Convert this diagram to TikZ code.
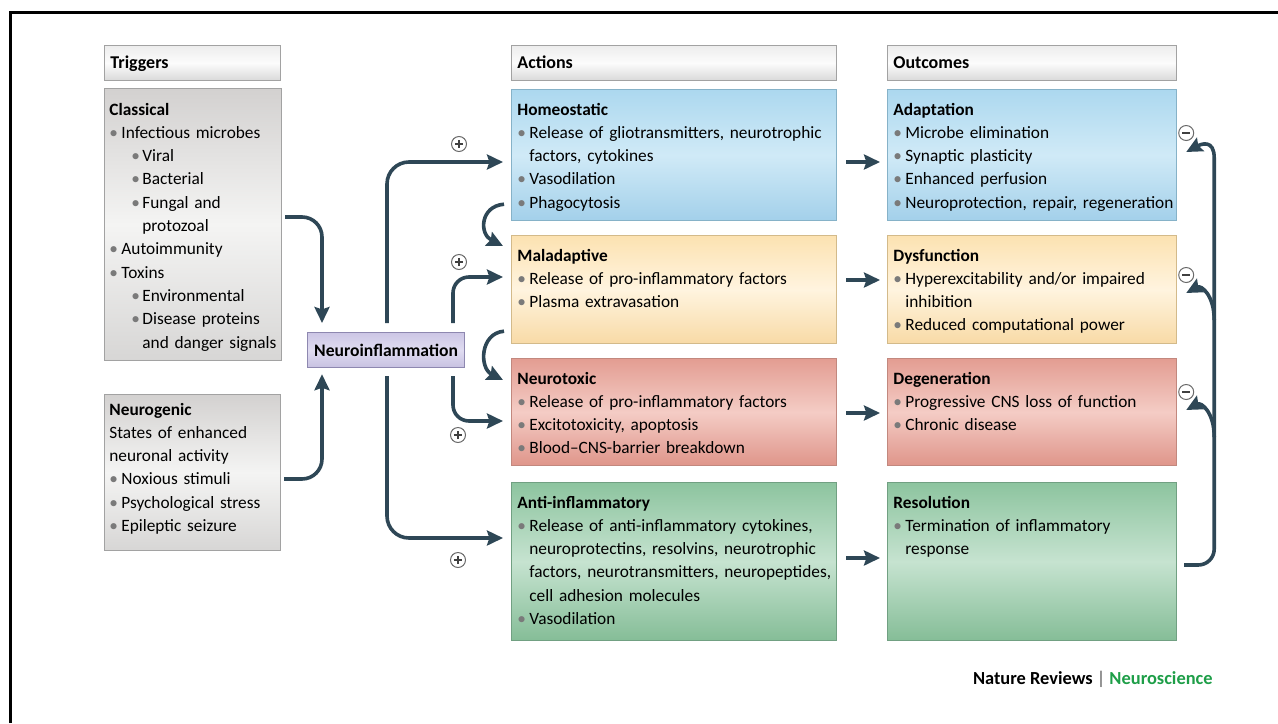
\documentclass[tikz,border=0pt]{standalone}
\usepackage{fontspec}
\setmainfont{Carlito}
\usetikzlibrary{arrows.meta,calc}

\definecolor{linec}{HTML}{2E4756}
\definecolor{signc}{HTML}{6A6A6A}
\definecolor{bulc}{HTML}{7A7A7A}
\definecolor{greyedge}{HTML}{A2A2A2}
\definecolor{greytop}{HTML}{D3D1D0}
\definecolor{greymid}{HTML}{F4F4F3}
\definecolor{greybot}{HTML}{D7D6D5}
\definecolor{hdrtop}{HTML}{EDEDED}
\definecolor{hdrmid}{HTML}{FCFCFC}
\definecolor{hdrbot}{HTML}{D9D9D9}
\definecolor{lavtop}{HTML}{CCC6E5}
\definecolor{lavmid}{HTML}{E0DCF1}
\definecolor{lavbot}{HTML}{C7C1E1}
\definecolor{lavedge}{HTML}{8E88B0}
\definecolor{bluetop}{HTML}{ACD8EF}
\definecolor{bluemid}{HTML}{D0EAF7}
\definecolor{bluebot}{HTML}{A3D0EA}
\definecolor{blueedge}{HTML}{86B2C8}
\definecolor{yeltop}{HTML}{FCE2B1}
\definecolor{yelmid}{HTML}{FFF4DF}
\definecolor{yelbot}{HTML}{F8DAA6}
\definecolor{yeledge}{HTML}{D3BA8A}
\definecolor{redtop}{HTML}{E39D92}
\definecolor{redmid}{HTML}{F4CCC5}
\definecolor{redbot}{HTML}{DF958A}
\definecolor{rededge}{HTML}{C2887E}
\definecolor{grntop}{HTML}{8DC49F}
\definecolor{grnmid}{HTML}{C6E3D0}
\definecolor{grnbot}{HTML}{85BD97}
\definecolor{grnedge}{HTML}{71A082}
\definecolor{natgreen}{HTML}{1E9E48}
\definecolor{credgrey}{HTML}{555555}

% list items with hanging indent: main level and sub level
\newcommand\itm{\par\hangindent=6pt\hangafter=1\noindent\makebox[6pt][l]{\textcolor{bulc}{\textbullet}}}
\newcommand\sitm{\par\hangindent=16.5pt\hangafter=1\noindent\hspace*{11pt}\makebox[5.5pt][l]{\textcolor{bulc}{\textbullet}}}
\newcommand\ttl[1]{{\bfseries #1}}

\begin{document}
\begin{tikzpicture}[x=0.5pt,y=-0.5pt,
  box/.style={draw, line width=0.6pt, anchor=north west, inner sep=0pt},
  grad/.style n args={4}{top color=#1, bottom color=#3, middle color=#2, draw=#4},
  greyfill/.style={grad={greytop}{greymid}{greybot}{greyedge}},
  hdrfill/.style={grad={hdrtop}{hdrmid}{hdrbot}{greyedge}},
  lavfill/.style={grad={lavtop}{lavmid}{lavbot}{lavedge}},
  bluefill/.style={grad={bluetop}{bluemid}{bluebot}{blueedge}},
  yelfill/.style={grad={yeltop}{yelmid}{yelbot}{yeledge}},
  redfill/.style={grad={redtop}{redmid}{redbot}{rededge}},
  grnfill/.style={grad={grntop}{grnmid}{grnbot}{grnedge}},
  txt/.style={anchor=base west, inner sep=0pt, font=\fontsize{8.65}{11.65}\selectfont},
  hdrtxt/.style={anchor=base west, inner sep=0pt, font=\fontsize{9}{11}\selectfont\bfseries},
  conn/.style={draw=linec, line width=1.8pt, -{Stealth[length=8pt,width=7.5pt,inset=1.2pt]}},
  sign/.style={circle, draw=signc, line width=0.5pt, minimum size=7.5pt, inner sep=0pt, fill=white},
  plussign/.style={sign, path picture={\draw[line width=0.7pt, black!75]
      ([xshift=-2pt]path picture bounding box.center) -- ([xshift=2pt]path picture bounding box.center)
      ([yshift=-2pt]path picture bounding box.center) -- ([yshift=2pt]path picture bounding box.center);}},
  minussign/.style={sign, path picture={\draw[line width=0.8pt, black!75]
      ([xshift=-2pt]path picture bounding box.center) -- ([xshift=2pt]path picture bounding box.center);}}
]
\useasboundingbox (0,0) rectangle (1278,723);

% frame
\draw[line width=1.5pt] (10,723) -- (10,12) -- (1278,12);

% ---------- column headers ----------
\node[box, hdrfill, minimum width=88pt, minimum height=17.5pt] (trig) at (104,45) {};
\node[hdrtxt] (trigt) at ($(trig.north west)+(6,23)$) {Triggers};
\node[box, hdrfill, minimum width=162.5pt, minimum height=17.5pt] (act) at (511,45) {};
\node[hdrtxt] (actt) at ($(act.north west)+(6,23)$) {Actions};
\node[box, hdrfill, minimum width=144.5pt, minimum height=17.5pt] (out) at (887,45) {};
\node[hdrtxt] (outt) at ($(out.north west)+(6,23)$) {Outcomes};

% ---------- triggers ----------
\node[box, greyfill, minimum width=88.5pt, minimum height=136pt] (cla) at (104,88) {};
\node[txt, text width=86pt] (clat) at ($(cla.north west)+(5,27)$) {\ttl{Classical}%
  \itm Infectious microbes
  \sitm Viral
  \sitm Bacterial
  \sitm Fungal and\newline protozoal
  \itm Autoimmunity
  \itm Toxins
  \sitm Environmental
  \sitm Disease proteins\newline and danger signals\par};

\node[box, greyfill, minimum width=88pt, minimum height=78pt] (neu) at (104,394) {};
\node[txt, text width=86pt] (neut) at ($(neu.north west)+(5,21)$) {\ttl{Neurogenic}\par
  States of enhanced\newline neuronal activity
  \itm Noxious stimuli
  \itm Psychological stress
  \itm Epileptic seizure\par};

\node[box, lavfill, minimum width=78.5pt, minimum height=17.5pt,
      font=\fontsize{8.8}{10}\selectfont\bfseries] (nf) at (307,332) {Neuroinflammation};

% ---------- actions ----------
\node[box, bluefill, minimum width=162.5pt, minimum height=65.5pt] (hom) at (511,89) {};
\node[txt, text width=159pt] (homt) at ($(hom.north west)+(6,26)$) {\ttl{Homeostatic}%
  \itm Release of gliotransmitters, neurotrophic\newline factors, cytokines
  \itm Vasodilation
  \itm Phagocytosis\par};

\node[box, yelfill, minimum width=162.5pt, minimum height=54pt] (mal) at (511,235) {};
\node[txt, text width=159pt] (malt) at ($(mal.north west)+(6,26)$) {\ttl{Maladaptive}%
  \itm Release of pro-inflammatory factors
  \itm Plasma extravasation\par};

\node[box, redfill, minimum width=162.5pt, minimum height=53.5pt] (ntx) at (511,358) {};
\node[txt, text width=159pt] (ntxt) at ($(ntx.north west)+(6,26)$) {\ttl{Neurotoxic}%
  \itm Release of pro-inflammatory factors
  \itm Excitotoxicity, apoptosis
  \itm Blood–CNS-barrier breakdown\par};

\node[box, grnfill, minimum width=162.5pt, minimum height=79pt] (anti) at (511,482) {};
\node[txt, text width=159pt] (antit) at ($(anti.north west)+(6,26)$) {\ttl{Anti-inflammatory}%
  \itm Release of anti-inflammatory cytokines,\newline neuroprotectins, resolvins, neurotrophic\newline
  factors, neurotransmitters, neuropeptides,\newline cell adhesion molecules
  \itm Vasodilation\par};

% ---------- outcomes ----------
\node[box, bluefill, minimum width=144.5pt, minimum height=65.5pt] (ada) at (887,89) {};
\node[txt, text width=143pt] (adat) at ($(ada.north west)+(6,26)$) {\ttl{Adaptation}%
  \itm Microbe elimination
  \itm Synaptic plasticity
  \itm Enhanced perfusion
  \itm Neuroprotection, repair, regeneration\par};

\node[box, yelfill, minimum width=144.5pt, minimum height=54pt] (dys) at (887,235) {};
\node[txt, text width=143pt] (dyst) at ($(dys.north west)+(6,26)$) {\ttl{Dysfunction}%
  \itm Hyperexcitability and/or impaired\newline inhibition
  \itm Reduced computational power\par};

\node[box, redfill, minimum width=144.5pt, minimum height=53.5pt] (deg) at (887,358) {};
\node[txt, text width=143pt] (degt) at ($(deg.north west)+(6,26)$) {\ttl{Degeneration}%
  \itm Progressive CNS loss of function
  \itm Chronic disease\par};

\node[box, grnfill, minimum width=144.5pt, minimum height=79pt] (res) at (887,482) {};
\node[txt, text width=143pt] (rest) at ($(res.north west)+(6,26)$) {\ttl{Resolution}%
  \itm Termination of inflammatory\newline response\par};

% ---------- connectors: triggers into neuroinflammation ----------
\draw[conn, rounded corners=10pt] ($(cla.north east)+(3,129)$) -| ($(nf.north west)+(15,-9)$);
\draw[conn, rounded corners=10pt] ($(neu.north east)+(3,85)$) -| ($(nf.south west)+(15,6)$);

% ---------- neuroinflammation into actions ----------
\draw[conn, rounded corners=11pt] ($(nf.north west)+(80,-9)$) |- ($(hom.north west)+(-8,73)$);
\draw[conn, rounded corners=11pt] ($(nf.south west)+(80,8)$) |- ($(anti.north west)+(-8,56)$);
\draw[conn, rounded corners=8pt] ($(nf.north west)+(146,-9)$) |- ($(mal.north west)+(-8,42)$);
\draw[conn, rounded corners=8pt] ($(nf.south west)+(146,8)$) |- ($(ntx.north west)+(-8,63)$);

% ---------- escalation between actions ----------
\draw[conn] ($(hom.south west)+(-7,-17)$) .. controls +(-24,2) and +(-24,-12) .. ($(mal.north west)+(-8,11)$);
\draw[conn] ($(mal.south west)+(-7,-13)$) .. controls +(-24,2) and +(-24,-12) .. ($(ntx.north west)+(-8,22)$);

% ---------- actions into outcomes ----------
\draw[conn] ($(hom.north east)+(9,73)$) -- ($(ada.north west)+(-7,73)$);
\draw[conn] ($(mal.north east)+(9,45)$) -- ($(dys.north west)+(-7,45)$);
\draw[conn] ($(ntx.north east)+(9,55)$) -- ($(deg.north west)+(-7,55)$);
\draw[conn] ($(anti.north east)+(9,76)$) -- ($(res.north west)+(-7,76)$);

% ---------- negative feedback from resolution ----------
\draw[conn, rounded corners=8pt] ($(res.north east)+(7,83)$) -| ($(ada.north east)+(37,85)$)
  [sharp corners] .. controls +(0,-35) and +(15,-8) .. ($(ada.north east)+(9,63)$);
\draw[conn] ($(dys.north east)+(37,85)$) .. controls +(0,-25) and +(15,-8) .. ($(dys.north east)+(9,58)$);
\draw[conn] ($(deg.north east)+(37,79)$) .. controls +(0,-25) and +(15,-8) .. ($(deg.north east)+(9,52)$);

% ---------- signs ----------
\node[plussign] (p1) at ($(hom.north west)+(-52,55)$) {};
\node[plussign] (p2) at ($(mal.north west)+(-52,27)$) {};
\node[plussign] (p3) at ($(ntx.north west)+(-53,77)$) {};
\node[plussign] (p4) at ($(anti.north west)+(-53,78)$) {};
\node[minussign] (m1) at ($(ada.north east)+(9,44)$) {};
\node[minussign] (m2) at ($(dys.north east)+(9,40)$) {};
\node[minussign] (m3) at ($(deg.north east)+(9,34)$) {};

% ---------- credit line ----------
\node[anchor=base east, inner sep=0pt, font=\fontsize{9.2}{11}\selectfont\bfseries] (credit) at (1213,684)
  {Nature Reviews {\color{credgrey}\mdseries|} \textcolor{natgreen}{Neuroscience}};
\end{tikzpicture}
\end{document}
